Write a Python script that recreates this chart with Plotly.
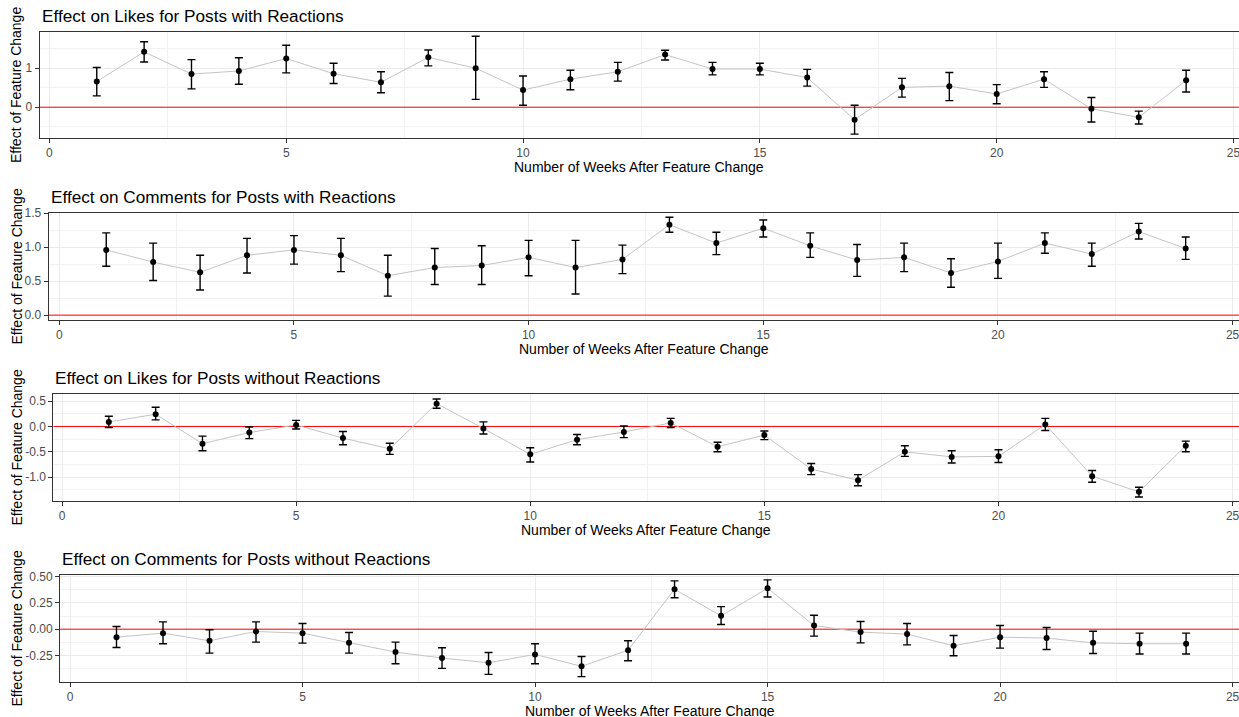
import plotly.graph_objects as go

W, H = 1239, 717

weeks = [1, 2, 3, 4, 5, 6, 7, 8, 9, 10, 11, 12, 13, 14, 15, 16, 17, 18, 19, 20, 21, 22, 23, 24]

# Panel 1: Likes, posts with reactions
likes_with = [0.66, 1.42, 0.85, 0.93, 1.25, 0.86, 0.64, 1.28, 1.00, 0.44, 0.72, 0.91,
              1.35, 0.98, 0.98, 0.76, -0.32, 0.51, 0.54, 0.34, 0.72, -0.04, -0.26, 0.69]
likes_with_hi = [1.02, 1.68, 1.22, 1.27, 1.59, 1.13, 0.91, 1.47, 1.82, 0.80, 0.95, 1.15,
                 1.46, 1.15, 1.13, 0.97, 0.05, 0.74, 0.89, 0.58, 0.91, 0.25, -0.10, 0.95]
likes_with_lo = [0.29, 1.16, 0.47, 0.59, 0.88, 0.61, 0.37, 1.06, 0.20, 0.05, 0.45, 0.67,
                 1.21, 0.83, 0.83, 0.54, -0.69, 0.26, 0.17, 0.09, 0.51, -0.38, -0.43, 0.39]

# Panel 2: Comments, posts with reactions
comments_with = [0.96, 0.78, 0.63, 0.88, 0.96, 0.88, 0.58, 0.70, 0.73, 0.85, 0.70, 0.82,
                 1.33, 1.06, 1.28, 1.02, 0.81, 0.85, 0.62, 0.79, 1.06, 0.90, 1.23, 0.98]
comments_with_hi = [1.21, 1.06, 0.88, 1.13, 1.17, 1.13, 0.88, 0.98, 1.02, 1.10, 1.10, 1.03,
                    1.44, 1.22, 1.40, 1.21, 1.04, 1.06, 0.83, 1.06, 1.21, 1.06, 1.35, 1.15]
comments_with_lo = [0.72, 0.51, 0.37, 0.62, 0.75, 0.64, 0.28, 0.45, 0.45, 0.58, 0.31, 0.61,
                    1.22, 0.89, 1.15, 0.85, 0.57, 0.64, 0.41, 0.54, 0.91, 0.72, 1.12, 0.82]

# Panel 3: Likes, posts without reactions
likes_without = [0.09, 0.24, -0.34, -0.12, 0.03, -0.23, -0.44, 0.45, -0.04, -0.55, -0.26, -0.11,
                 0.07, -0.40, -0.17, -0.84, -1.06, -0.50, -0.60, -0.59, 0.04, -0.98, -1.29, -0.38]
likes_without_hi = [0.20, 0.38, -0.19, -0.01, 0.12, -0.10, -0.33, 0.54, 0.09, -0.42, -0.16, 0.01,
                    0.16, -0.31, -0.09, -0.73, -0.95, -0.38, -0.48, -0.46, 0.16, -0.87, -1.20, -0.29]
likes_without_lo = [-0.02, 0.13, -0.48, -0.24, -0.05, -0.36, -0.55, 0.36, -0.15, -0.70, -0.36, -0.22,
                    -0.02, -0.50, -0.26, -0.95, -1.17, -0.59, -0.72, -0.71, -0.08, -1.10, -1.39, -0.50]

# Panel 4: Comments, posts without reactions
comments_without = [-0.076, -0.038, -0.110, -0.022, -0.038, -0.130, -0.218, -0.275, -0.320, -0.240, -0.354, -0.200,
                    0.380, 0.127, 0.390, 0.035, -0.028, -0.047, -0.158, -0.076, -0.085, -0.130, -0.139, -0.139]
comments_without_hi = [0.025, 0.070, -0.006, 0.070, 0.054, -0.032, -0.123, -0.177, -0.222, -0.139, -0.260, -0.110,
                       0.460, 0.215, 0.470, 0.133, 0.073, 0.054, -0.060, 0.035, 0.016, -0.019, -0.038, -0.038]
comments_without_lo = [-0.174, -0.139, -0.228, -0.123, -0.133, -0.228, -0.329, -0.373, -0.430, -0.329, -0.452, -0.300,
                       0.300, 0.044, 0.307, -0.066, -0.130, -0.149, -0.253, -0.180, -0.193, -0.231, -0.237, -0.237]

titles = ["Effect on Likes for Posts with Reactions",
          "Effect on Comments for Posts with Reactions",
          "Effect on Likes for Posts without Reactions",
          "Effect on Comments for Posts without Reactions"]
x_title = "Number of Weeks After Feature Change"
y_title = "Effect of Feature Change"

x_tick_vals = [0, 5, 10, 15, 20, 25]
x_tick_text = ["0", "5", "10", "15", "20", "25"]

y1_tick_vals = [0, 1]
y1_tick_text = ["0", "1"]
y2_tick_vals = [0.0, 0.5, 1.0, 1.5]
y2_tick_text = ["0.0", "0.5", "1.0", "1.5"]
y3_tick_vals = [-1.0, -0.5, 0.0, 0.5]
y3_tick_text = ["-1.0", "-0.5", "0.0", "0.5"]
y4_tick_vals = [-0.25, 0.0, 0.25, 0.5]
y4_tick_text = ["-0.25", "0.00", "0.25", "0.50"]

reference_level = 0

series = [
    (likes_with, likes_with_hi, likes_with_lo, y1_tick_vals, y1_tick_text, 0.5, [-0.79, 1.93]),
    (comments_with, comments_with_hi, comments_with_lo, y2_tick_vals, y2_tick_text, 0.25, [-0.072, 1.503]),
    (likes_without, likes_without_hi, likes_without_lo, y3_tick_vals, y3_tick_text, 0.25, [-1.47, 0.64]),
    (comments_without, comments_without_hi, comments_without_lo, y4_tick_vals, y4_tick_text, 0.125, [-0.503, 0.516]),
]

# pixel boxes: left, top, bottom, x-pixel of tick 0, x-pixel of tick 25
boxes = [
    (39.5, 32, 138, 49.4, 1233.5),
    (48.6, 213, 320, 59.3, 1232.6),
    (53.4, 394, 501, 62.0, 1232.6),
    (60.0, 575, 682, 70.0, 1232.6),
]


def fx(p):
    return p / W


def fy(p):
    return 1 - p / H


FONT = "Liberation Sans, Arial, sans-serif"
fig = go.Figure()
annotations = []
layout = {}

for i, ((y, hi, lo, ytv, ytt, yminor, yr), (l, t, b, x0p, x25p)) in enumerate(zip(series, boxes)):
    n = i + 1
    xa = "x" if n == 1 else f"x{n}"
    ya = "y" if n == 1 else f"y{n}"
    pxu = (x25p - x0p) / 25.0
    xr = [-(x0p - l) / pxu, 25 + (W - x25p) / pxu]

    # red reference line at zero spanning the panel
    fig.add_trace(go.Scatter(
        x=xr, y=[reference_level, reference_level], xaxis=xa, yaxis=ya, mode="lines",
        line=dict(color="#FF0000", width=1), showlegend=False, hoverinfo="skip",
    ))

    fig.add_trace(go.Scatter(
        x=weeks, y=y, xaxis=xa, yaxis=ya, mode="lines+markers",
        line=dict(color="#C4C4C4", width=1),
        marker=dict(color="black", size=6),
        error_y=dict(type="data", symmetric=False,
                     array=[h - v for h, v in zip(hi, y)],
                     arrayminus=[v - lo_ for v, lo_ in zip(y, lo)],
                     color="black", thickness=1.4, width=4),
        showlegend=False, hoverinfo="skip",
    ))

    layout[f"xaxis{'' if n == 1 else n}"] = dict(
        domain=[fx(l), 1.0], anchor=ya, range=xr, automargin=False,
        tickvals=x_tick_vals, ticktext=x_tick_text, ticklabeloverflow="allow",
        showgrid=True, gridcolor="#EBEBEB", gridwidth=1.1,
        minor=dict(dtick=2.5, tick0=0, showgrid=True, gridcolor="#F2F2F2", gridwidth=0.6, ticks=""),
        zeroline=False, showline=True, linecolor="#333333", linewidth=1, mirror=True,
        ticks="outside", ticklen=4, tickcolor="#333333", tickwidth=1,
        tickfont=dict(family=FONT, size=12, color="#4D4D4D"),
    )
    layout[f"yaxis{'' if n == 1 else n}"] = dict(
        domain=[fy(b), fy(t)], anchor=xa, range=yr, automargin=False,
        tickvals=ytv, ticktext=ytt, ticklabeloverflow="allow",
        showgrid=True, gridcolor="#EBEBEB", gridwidth=1.1,
        minor=dict(dtick=yminor * 2, tick0=yminor, showgrid=True, gridcolor="#F2F2F2", gridwidth=0.6, ticks=""),
        zeroline=False, showline=True, linecolor="#333333", linewidth=1, mirror=False,
        ticks="outside", ticklen=4, tickcolor="#333333", tickwidth=1,
        tickfont=dict(family=FONT, size=12, color="#4D4D4D"),
    )

    annotations.append(dict(text=titles[i], xref="paper", yref="paper", x=fx(l), y=fy(t - 16),
                            xanchor="left", yanchor="middle", showarrow=False,
                            font=dict(family=FONT, size=17.2, color="black")))
    annotations.append(dict(text=x_title, xref="paper", yref="paper", x=fx((l + 1239) / 2), y=fy(b + 29),
                            xanchor="center", yanchor="middle", showarrow=False,
                            font=dict(family=FONT, size=14, color="black")))
    annotations.append(dict(text=y_title, xref="paper", yref="paper", x=fx(16), y=fy((t + b) / 2),
                            xanchor="center", yanchor="middle", showarrow=False, textangle=-90,
                            font=dict(family=FONT, size=14, color="black")))

fig.update_layout(
    template="none",
    width=W, height=H, margin=dict(l=0, r=0, t=0, b=0, autoexpand=False),
    paper_bgcolor="white", plot_bgcolor="white",
    annotations=annotations, **layout,
)

fig.write_html("out.html", config={"displayModeBar": False},
               post_script="document.body.style.margin='0';document.body.style.overflow='hidden';")
